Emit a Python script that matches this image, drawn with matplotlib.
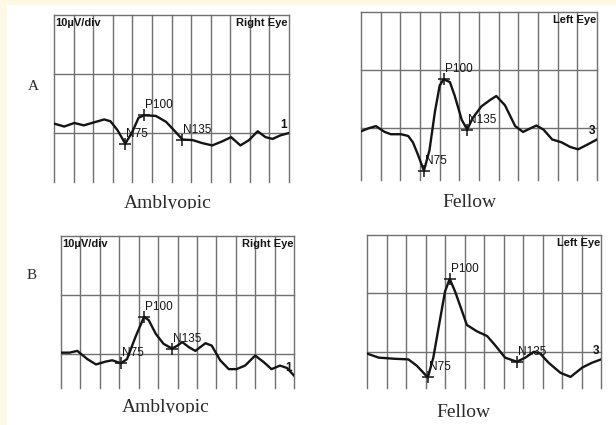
import numpy as np
import matplotlib.pyplot as plt
from matplotlib.patches import Rectangle
from matplotlib.transforms import Bbox, TransformedBbox

W, H = 616, 425

# VEP traces: time in ms (25 ms per division), amplitude in divisions (10 uV/div)
a_amb_t = [0, 13, 26, 38, 51, 64, 72, 81, 91, 100, 108, 115, 130, 143, 153, 164,
           177, 189, 202, 215, 226, 238, 249, 260, 270, 279, 289, 300]
a_amb_v = [0.16, 0.11, 0.17, 0.13, 0.18, 0.23, 0.20, 0.05, -0.18, 0.02, 0.26, 0.30,
           0.29, 0.19, 0.05, -0.11, -0.12, -0.17, -0.21, -0.14, -0.07, -0.21, -0.12,
           0.03, -0.07, -0.10, -0.04, 0.0]

a_fel_t = [0, 9, 19, 30, 38, 51, 60, 66, 72, 80, 87, 94, 100, 105, 113, 119, 128, 135,
           142, 153, 164, 172, 183, 196, 206, 215, 223, 232, 243, 255, 266, 276, 289, 300]
a_fel_v = [-0.06, -0.01, 0.03, -0.07, -0.11, -0.11, -0.14, -0.25, -0.45, -0.74, -0.39,
           0.28, 0.73, 0.84, 0.79, 0.56, 0.14, -0.03, 0.17, 0.37, 0.48, 0.55, 0.39, 0.03,
           -0.07, -0.01, 0.04, -0.03, -0.20, -0.25, -0.33, -0.37, -0.28, -0.20]

b_amb_t = [0, 11, 21, 34, 45, 58, 66, 77, 85, 96, 107, 113, 122, 132, 143, 150, 156,
           165, 173, 186, 194, 205, 216, 226, 237, 250, 261, 271, 282, 291, 300]
b_amb_v = [0.02, 0.02, 0.05, -0.09, -0.18, -0.13, -0.11, -0.16, -0.09, 0.29, 0.63, 0.57,
           0.34, 0.17, 0.09, 0.14, 0.20, 0.11, 0.05, 0.18, 0.14, -0.11, -0.26, -0.26,
           -0.20, -0.03, -0.14, -0.26, -0.20, -0.24, -0.37]

b_fel_t = [0, 15, 36, 53, 64, 78, 85, 94, 100, 106, 113, 122, 128, 141, 154, 165, 177,
           192, 203, 214, 222, 233, 248, 261, 276, 288, 300]
b_fel_v = [-0.03, -0.10, -0.12, -0.13, -0.24, -0.44, -0.10, 0.58, 1.03, 1.25, 1.03, 0.69,
           0.46, 0.35, 0.27, 0.10, -0.10, -0.17, -0.10, 0.0, -0.03, -0.19, -0.36, -0.43,
           -0.27, -0.19, -0.13]

peak_names = ['N75', 'P100', 'N135']
a_amb_peaks = [91, 115, 164]
a_fel_peaks = [80, 105, 135]
b_amb_peaks = [77, 107, 143]
b_fel_peaks = [78, 106, 192]

grid_c = '#707070'
ink = '#141414'
cream = '#fdf9e6'

fig = plt.figure(figsize=(W / 100, H / 100), dpi=100)
fig.patch.set_facecolor('white')
fig.add_artist(Rectangle((0, 1 - 5 / H), 1, 5 / H, transform=fig.transFigure, color=cream, lw=0))
fig.add_artist(Rectangle((0, 0), 7 / W, 1, transform=fig.transFigure, color=cream, lw=0))


def panel(box, ymin, t, v, peaks, chan, eye, scale_lbl):
    x0, y0, x1, y1 = box
    ax = fig.add_axes([x0 / W, 1 - y1 / H, (x1 - x0) / W, (y1 - y0) / H])
    ax.set_xlim(0, 300)
    ax.set_ylim(ymin, 2)
    ax.axis('off')
    for x in range(0, 301, 25):
        ax.axvline(x, color=grid_c, lw=1.0, clip_on=False)
    for y in (0, 1, 2):
        ax.axhline(y, color=grid_c, lw=1.0, clip_on=False)
    ax.plot(t, v, color=ink, lw=1.7, solid_joinstyle='round')
    pv = np.interp(peaks, t, v)
    ax.plot(peaks, pv, '+', ms=9, mew=1.1, color=ink, clip_on=False)
    for name, px, py in zip(peak_names, peaks, pv):
        ax.annotate(name, (px, py), xytext=(1, 7), textcoords='offset pixels',
                    fontsize=8.5, family='Liberation Sans', color=ink, va='baseline')
    ax.annotate(chan, (300, v[-1]), xytext=(-2, 5), textcoords='offset pixels',
                fontsize=8.5, fontweight='bold', family='Liberation Sans', color=ink,
                ha='right', va='baseline')
    ax.annotate(eye, (1, 1), xycoords='axes fraction', xytext=(-1, -3),
                textcoords='offset pixels', fontsize=8, fontweight='bold',
                family='Liberation Sans', color=ink, ha='right', va='top')
    if scale_lbl:
        ax.annotate('10µV/div', (0, 1), xycoords='axes fraction', xytext=(1, -3),
                    textcoords='offset pixels', fontsize=8, fontweight='bold',
                    family='Liberation Sans', color=ink, ha='left', va='top')
    return ax


panel((54, 15, 289, 182), -0.83, a_amb_t, a_amb_v, a_amb_peaks, '1', 'Right Eye', True)
panel((361, 12, 597, 180), -0.90, a_fel_t, a_fel_v, a_fel_peaks, '3', 'Left Eye', False)
panel((61, 236, 294, 388), -0.58, b_amb_t, b_amb_v, b_amb_peaks, '1', 'Right Eye', True)
panel((367, 235, 601, 388), -0.62, b_fel_t, b_fel_v, b_fel_peaks, '3', 'Left Eye', False)


def caption(x, y, s, size, clip=None):
    t = fig.text(x / W, 1 - y / H, s, ha='center', va='baseline', fontsize=size,
                 family='Liberation Serif', color='#2a2a2a')
    if clip is not None:
        t.set_clip_box(TransformedBbox(Bbox([[0, 1 - clip / H], [1, 1]]), fig.transFigure))
        t.set_clip_on(True)


caption(33, 90, 'A', 11)
caption(32, 279, 'B', 11)
caption(168, 208, 'Amblyopic', 14, clip=209)
caption(469, 207, 'Fellow', 14, clip=209)
caption(166, 412, 'Amblyopic', 14, clip=413)
caption(463, 417, 'Fellow', 14, clip=419)

fig.savefig('out.png', dpi=100, facecolor=fig.get_facecolor())
